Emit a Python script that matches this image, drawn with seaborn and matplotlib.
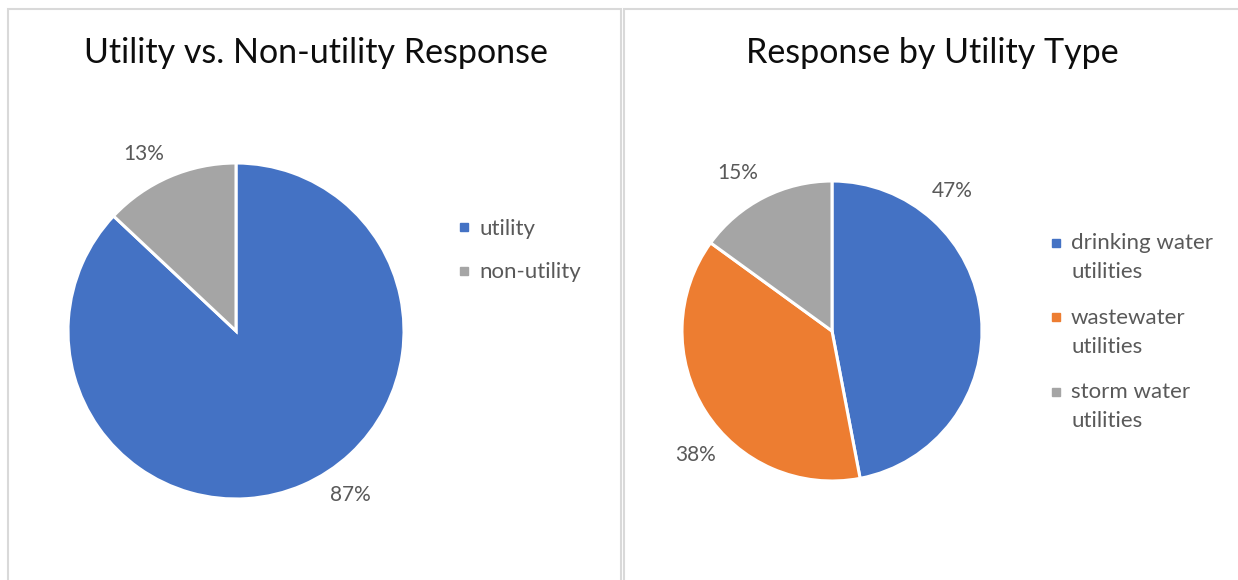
"""
Two survey pies: utility vs non-utility, and response by utility type.
"""
import numpy as np
import seaborn as sns
import matplotlib.pyplot as plt
from matplotlib.lines import Line2D
from matplotlib.patches import Rectangle
from matplotlib.legend_handler import HandlerLine2D

sns.set_theme(style="white")
plt.rcParams['font.family'] = ['Lato', 'DejaVu Sans']

# Data
left_labels = ['utility', 'non-utility']
left_values = [87, 13]
right_labels = ['drinking water\nutilities', 'wastewater\nutilities', 'storm water\nutilities']
right_values = [47, 38, 15]

blue, orange, grey = '#4472C4', '#ED7D31', '#A5A5A5'
text_grey = '#595959'

W, H = 1238, 580
fig = plt.figure(figsize=(W / 100, H / 100), dpi=100)
ax = fig.add_axes([0, 0, 1, 1])


def draw_pie(values, colors, center, radius, label_angles, label_dist):
    ax.pie(values, colors=colors, startangle=90, counterclock=False,
           center=center, radius=radius, frame=True,
           wedgeprops=dict(edgecolor='white', linewidth=2.2))
    # percentage labels, placed around the rim like Excel's best fit
    for v, ang in zip(values, label_angles):
        a = np.deg2rad(ang)
        ax.text(center[0] + label_dist * radius * np.cos(a),
                center[1] + label_dist * radius * np.sin(a),
                f'{v}%', ha='center', va='center', fontsize=15, color=text_grey)


draw_pie(left_values, [blue, grey], (236, H - 331), 168, [-55, 117.6], 1.19)
draw_pie(right_values, [blue, orange, grey], (832, H - 331), 150, [49.4, -137.6, 120.9], 1.23)

ax.set_xlim(0, W)
ax.set_ylim(0, H)
ax.set_aspect('auto')
ax.axis('off')

# Titles
fig.text(316 / W, 1 - 53 / H, 'Utility vs. Non-utility Response', ha='center', va='center',
         fontsize=24.5, color='#0d0d0d')
fig.text(932 / W, 1 - 53 / H, 'Response by Utility Type', ha='center', va='center',
         fontsize=24.5, color='#0d0d0d')


class ShiftedMarker(HandlerLine2D):
    """Legend marker moved up so it sits beside the first line of a wrapped label."""
    def __init__(self, dy=0, **kw):
        super().__init__(**kw)
        self.dy = dy

    def create_artists(self, legend, orig_handle, xdescent, ydescent, width, height,
                       fontsize, trans):
        arts = super().create_artists(legend, orig_handle, xdescent, ydescent, width,
                                      height, fontsize, trans)
        for a in arts:
            a.set_ydata(np.asarray(a.get_ydata()) + self.dy)
        return arts


def make_legend(labels, colors, x, y, spacing, dy=0):
    handles = [Line2D([], [], marker='s', linestyle='none', markersize=6,
                      markerfacecolor=c, markeredgecolor=c) for c in colors]
    leg = fig.legend(handles, labels, loc='upper left', bbox_to_anchor=(x / W, 1 - y / H),
                     frameon=False, fontsize=16, handlelength=0.5, handletextpad=0.45,
                     labelspacing=spacing, labelcolor=text_grey, borderpad=0,
                     borderaxespad=0, handler_map={Line2D: ShiftedMarker(dy=dy)})
    for t in leg.get_texts():
        t.set_linespacing(1.57)
    return leg


make_legend(left_labels, [blue, grey], 458, 219, 1.05)
make_legend(right_labels, [blue, orange, grey], 1050, 233, 1.15, dy=11)

# Panel borders (bottom and right edges run off the picture)
border = '#D9D9D9'
fig.patches.append(Rectangle((8 / W, -0.1), 613 / W, 1.1 - 9 / H, transform=fig.transFigure,
                             fill=False, edgecolor=border, linewidth=1.5))
fig.patches.append(Rectangle((624 / W, -0.1), 0.6, 1.1 - 9 / H, transform=fig.transFigure,
                             fill=False, edgecolor=border, linewidth=1.5))

fig.savefig('out.png', dpi=100)
